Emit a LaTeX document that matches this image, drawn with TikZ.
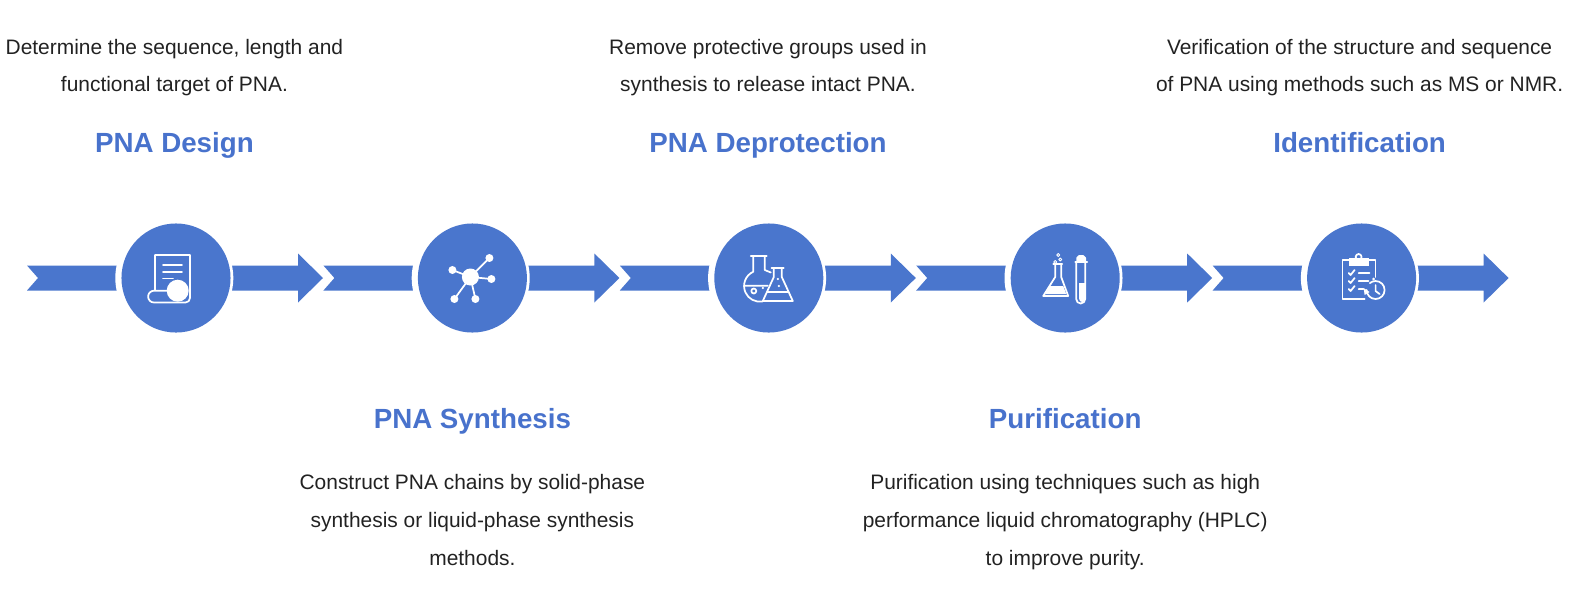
\documentclass[tikz,border=0pt]{standalone}
\usepackage{fontspec}
\setmainfont{Liberation Sans}
\usetikzlibrary{positioning,backgrounds}
\definecolor{pnablue}{HTML}{4A76CD}
\definecolor{pnatitle}{HTML}{4872CC}
\definecolor{pnaink}{HTML}{222222}
\tikzset{
  stp/.style={circle, fill=pnablue, minimum size=81.8pt, inner sep=0pt},
  ttl/.style={font=\fontsize{20.8}{24}\selectfont\bfseries, color=pnatitle, inner sep=0pt, text height=15pt, text depth=0pt},
  dsc/.style={font=\fontsize{15.7}{28.2}\selectfont, color=pnaink, align=center, inner sep=0pt, text depth=0pt},
  arw/.style={fill=pnablue},
  ico/.style={draw=white, line width=1.3pt, line cap=round, line join=round},
}

\begin{document}
\begin{tikzpicture}[x=0.75pt, y=-0.75pt, on grid, node distance=222.3pt]
  \useasboundingbox (0,0) rectangle (1570,615);
  \node[stp] (stepa) at (176,278) {};
  \node[stp,right=of stepa] (stepb) {};
  \node[stp,right=of stepb] (stepc) {};
  \node[stp,right=of stepc] (stepd) {};
  \node[stp,right=of stepd] (stepe) {};
  \node[ttl,above=102pt of stepa,xshift=-1.2pt] (ttla) {PNA Design};
  \node[ttl,below=105pt of stepb] (ttlb) {PNA Synthesis};
  \node[ttl,above=102pt of stepc,xshift=-.6pt] (ttlc) {PNA Deprotection};
  \node[ttl,below=105pt of stepd] (ttld) {Purification};
  \node[ttl,above=102pt of stepe,xshift=-1.5pt] (ttle) {Identification};
  \node[dsc,above=57.3pt of ttla] (dsca) {Determine the sequence, length and\\functional target of PNA.};
  \node[dsc,below=76.4pt of ttlb] (dscb) {Construct PNA chains by solid-phase\\synthesis or liquid-phase synthesis\\methods.};
  \node[dsc,above=57.3pt of ttlc] (dscc) {Remove protective groups used in\\synthesis to release intact PNA.};
  \node[dsc,below=76.4pt of ttld] (dscd) {Purification using techniques such as high\\performance liquid chromatography (HPLC)\\to improve purity.};
  \node[dsc,above=57.3pt of ttle] (dsce) {Verification of the structure and sequence\\of PNA using methods such as MS or NMR.};
  \begin{scope}[on background layer]
    \foreach \a in {stepa,stepb,stepc,stepd,stepe} {
      \fill[arw,shift={(\a)}] (-149,-12.5) -- (122,-12.5) -- (122,-24.5) -- (147,0) -- (122,24.5) -- (122,12.5) -- (-149,12.5) -- (-138,0) -- cycle;
      \fill[white,shift={(\a)}] (-1.7,0) circle (59);
    }
  \end{scope}
  % document
  \begin{scope}[shift={(stepa)},ico]
    \draw (-21,12.7) -- (-21,-23) -- (14,-23) -- (14,20) arc[start angle=0,end angle=90,radius=4.5] -- (-22,24.5) arc[start angle=90,end angle=270,radius=5.9] -- (2,12.7);
    \draw (-13,-13) -- (6,-13) (-13,-6) -- (6,-6) (-13,0.5) -- (-3,0.5);
    \fill[white] (1.7,12.7) circle (11);
  \end{scope}
  % molecule
  \begin{scope}[shift={(stepb)},ico]
    \draw (-2,-1) -- (17,-20) (-2,-1) -- (-20,-8) (-2,-1) -- (19,1) (-2,-1) -- (-18,21) (-2,-1) -- (3,21);
    \fill[white] (-2,-1) circle (8.5) (17,-20) circle (4) (-20,-8) circle (4) (19,1) circle (4) (-18,21) circle (4) (3,21) circle (4);
  \end{scope}
  % flasks
  \begin{scope}[shift={(stepc)},ico]
    \draw (-18,-22) -- (-2,-22) (-15.5,-22) -- (-15.5,-6.3) arc[start angle=245.6,end angle=80,radius=15.7] (-4,-22) -- (-4,-8) -- (2,-5.5);
    \draw (-24.7,7.7) -- (-1,7.7) (-15,13) circle (2.5);
    \fill[white] (-6,10) circle (1.2);
    \draw (2.7,-10) -- (15,-10) (5,-10) -- (5,-1) -- (-6,23) -- (24,23) -- (13,-1) -- (13,-10) (-2,14) -- (20,14);
    \fill[white] (9,1) circle (1.2) (10,8) circle (1.2);
  \end{scope}
  % flask and tube
  \begin{scope}[shift={(stepd)},ico]
    \draw (-12,-14) -- (-3,-14) (-10,-14) -- (-10,-1) -- (-22,18) -- (3,18) -- (-4,-1) -- (-4,-14);
    \fill[white] (-15.5,8) -- (-2,8) -- (1,16) -- (-20,16) -- cycle;
    \draw[line width=.7pt] (-7,-23) circle (1.5) (-10,-16) circle (1.5) (-5,-18.5) circle (1.5);
    \draw (10,-16) -- (22,-16) (11,-16) -- (11,21) arc[start angle=180,end angle=0,radius=4.5] -- (20,-16);
    \draw[fill=white] (12,-16) -- (12,-20) -- (14,-22) -- (18,-22) -- (20,-20) -- (20,-16) -- cycle;
    \fill[white] (14,5) -- (20,5) -- (20,21) arc[start angle=0,end angle=180,radius=3] -- cycle;
  \end{scope}
  % clipboard
  \begin{scope}[shift={(stepe)},ico]
    \draw (14,-1) -- (14,-18) -- (7,-18) (-13,-18) -- (-19,-18) -- (-19,21) -- (3,21);
    \fill[white] (-13,-20) rectangle (7,-12);
    \draw (-3,-21) circle (3);
    \draw (-13,-5) -- (-11,-3) -- (-7,-8) (-3,-5) -- (8,-5) (-13,3) -- (-11,5) -- (-7,0) (-3,3) -- (7,3) (-13,11) -- (-11,13) -- (-7,8) (-3,11) -- (2,11);
    \draw (5,12) arc[start angle=180,end angle=-130,radius=9] (14,7) -- (14,13) -- (18,16);
    \fill[white] (2,10) -- (8,14) -- (3,17) -- cycle (12,1) circle (1.5);
  \end{scope}
\end{tikzpicture}
\end{document}
